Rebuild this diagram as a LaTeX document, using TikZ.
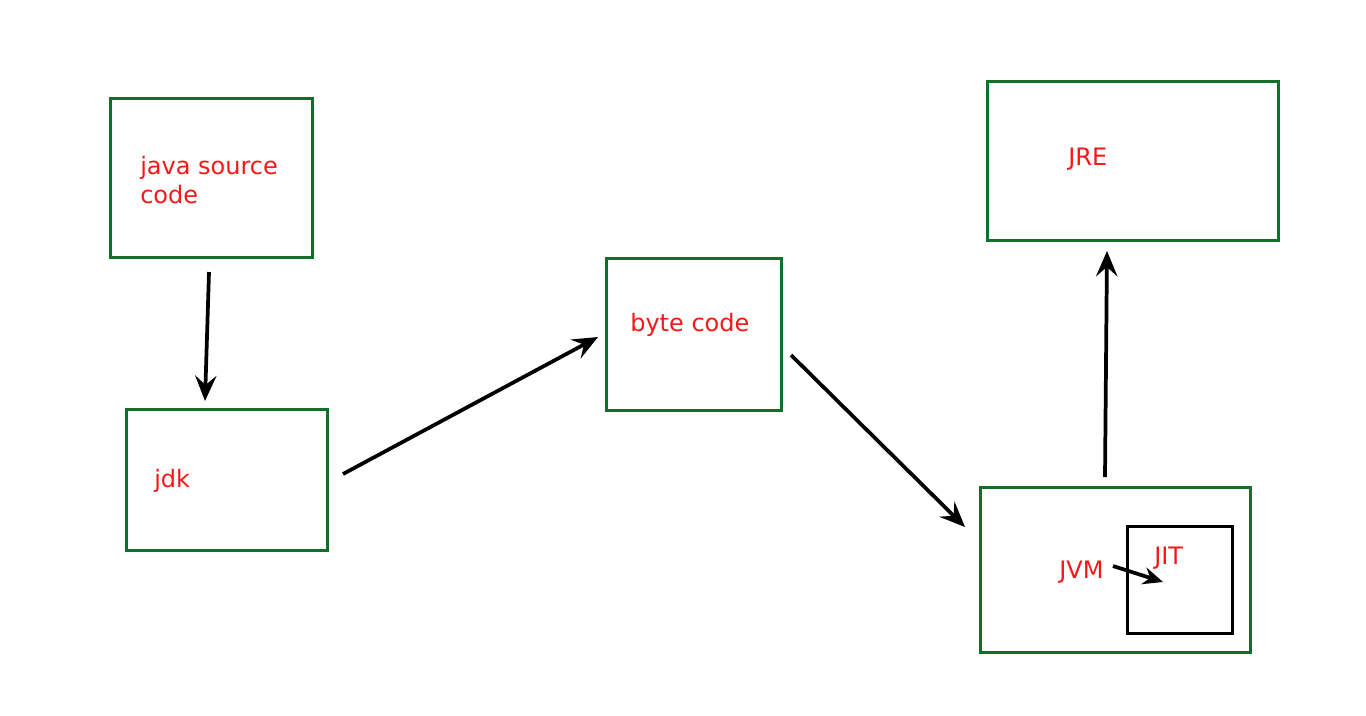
\documentclass[tikz,border=0pt]{standalone}
\usepackage{fontspec}
\setmainfont{DejaVu Sans}
\usetikzlibrary{arrows.meta}
\definecolor{boxgreen}{RGB}{16,112,42}
\definecolor{txtred}{RGB}{245,24,24}
\tikzset{
  gbox/.style={draw=boxgreen, line width=2.9pt, anchor=north west, inner sep=0pt},
  kbox/.style={draw=black, line width=2.9pt, anchor=north west, inner sep=0pt},
  lbl/.style={text=txtred, font=\fontsize{18}{22}\selectfont, inner sep=0pt, anchor=west, align=left},
  arr/.style={draw=black, line width=2.8pt, -{Stealth[length=19pt,width=16pt,inset=7pt]}},
  sarr/.style={draw=black, line width=2.8pt, -{Stealth[length=15pt,width=13pt,inset=5pt]}}
}
\begin{document}
\begin{tikzpicture}[x=0.75pt,y=-0.75pt]
\useasboundingbox (0,0) rectangle (1366,715);
% boxes
\node[gbox, minimum width=202*0.75pt, minimum height=159*0.75pt] (java) at (108.5,96.5) {};
\node[gbox, minimum width=201*0.75pt, minimum height=141*0.75pt] (jdk) at (124.5,407.5) {};
\node[gbox, minimum width=175*0.75pt, minimum height=152*0.75pt] (byte) at (604.5,256.5) {};
\node[gbox, minimum width=291*0.75pt, minimum height=159*0.75pt] (jre) at (985.5,79.5) {};
\node[gbox, minimum width=270*0.75pt, minimum height=165*0.75pt] (jvm) at (978.5,485.5) {};
\node[kbox, minimum width=105*0.75pt, minimum height=107*0.75pt] (jit) at (1125.5,524.5) {};
% labels
\node[lbl] (tjava) at (140,180) {java source\\code};
\node[lbl] (tjdk) at (154,481) {jdk};
\node[lbl] (tbyte) at (630,325) {byte code};
\node[lbl] (tjre) at (1068,159) {JRE};
\node[lbl] (tjvm) at (1059,572) {JVM};
\node[lbl] (tjit) at (1154,558) {JIT};
% connector end points
\coordinate (a1) at (209,272); \coordinate (a2) at (205,401);
\coordinate (b1) at (343,474); \coordinate (b2) at (598,337);
\coordinate (c1) at (791,355); \coordinate (c2) at (965,527);
\coordinate (d1) at (1105,477); \coordinate (d2) at (1107,251);
\coordinate (e1) at (1113,566); \coordinate (e2) at (1163,582);
\draw[arr] (a1) -- (a2);
\draw[arr] (b1) -- (b2);
\draw[arr] (c1) -- (c2);
\draw[arr] (d1) -- (d2);
\draw[sarr] (e1) -- (e2);
\end{tikzpicture}
\end{document}
